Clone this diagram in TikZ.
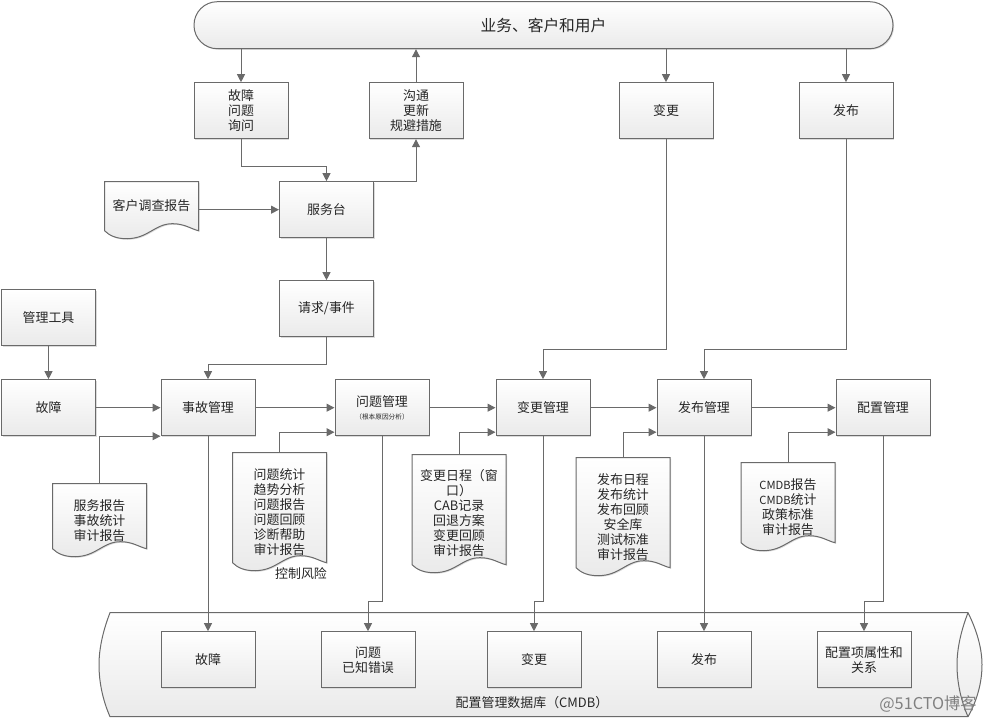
\documentclass[tikz,border=0pt]{standalone}
\usepackage{fontspec}
\setmainfont{Noto Sans CJK SC}
\usetikzlibrary{arrows.meta,shadows}
\definecolor{ln}{HTML}{6A6A6A}
\definecolor{sh}{HTML}{EAEAEA}
\tikzset{
  softshadow/.style={copy shadow={shadow xshift=.8pt,shadow yshift=-.8pt,fill=black!14,draw=none,opacity=1}},
  txt/.style={font=\fontsize{9.7}{11.25}\selectfont,text=black!85,align=center,inner sep=0pt},
  box/.style={txt,draw=ln,line width=.75pt,top color=white,bottom color=sh,minimum width=70.5pt,minimum height=42pt,softshadow},
  conn/.style={draw=ln,line width=.75pt,-{Triangle[length=6pt,width=6pt]}},
  docfill/.style={draw=ln,line width=.75pt,top color=white,bottom color=sh,softshadow},
  ghost/.style={txt,inner sep=0pt,minimum width=70.5pt}
}
% name, x-left, y-top, y-base, y-bottom, text
\newcommand\docshape[6]{%
  \path[docfill] (#2,#3) -- ++(94,0) -- (#2+94,#4)
    .. controls (#2+86,#4-2) and (#2+80,#4-7) .. (#2+68,#4-7)
    .. controls (#2+50,#4-7) and (#2+44,#4+8) .. (#2+22,#4+8)
    .. controls (#2+12,#4+8) and (#2+5,#4+5) .. (#2,#4) -- cycle;
  \node[ghost,minimum height=(#5-#3)*0.75pt] (#1) at (#2+47,{(#3+#5)/2}) {#6};
}
\begin{document}
\begin{tikzpicture}[x=0.75pt,y=-0.75pt]
\useasboundingbox (0,-0.7) rectangle (986,719.3);
% cylinder
\path[draw=ln,line width=.75pt,top color=white,bottom color=sh] (110,612) -- (968,612)
  .. controls (977,630) and (982,648) .. (982,664)
  .. controls (982,682) and (977,700) .. (968,716) -- (110,716)
  .. controls (103,700) and (99,682) .. (99,664)
  .. controls (99,648) and (103,630) .. (110,612) -- cycle;
\draw[ln,line width=.75pt] (968,612) .. controls (961,630) and (957,648) .. (957,664)
  .. controls (957,682) and (961,700) .. (968,716);
\node[txt] (cmdb) at (532,702) {配置管理数据库（CMDB）};
% top
\node[box,rounded corners=17.5pt,minimum width=524.25pt,minimum height=35.25pt,font=\fontsize{11.8}{14}\selectfont] (top) at (543.5,24.5) {业务、客户和用户};
\node[box] (b1) at (241,110) {故障\\问题\\询问};
\node[box] (b2) at (416,110) {沟通\\更新\\规避措施};
\node[box] (c1) at (666,110) {变更};
\node[box] (r1) at (846,110) {发布};
\node[box] (svc) at (326.5,209) {服务台};
\node[box] (req) at (326.5,308) {请求/事件};
\node[box] (tool) at (48.5,317) {管理工具};
\node[box] (flt) at (48.5,407) {故障};
\node[box] (inc) at (208,407) {事故管理};
\node[box] (prb) at (382,407) {问题管理\\[-2pt]{\fontsize{5}{6}\selectfont （根本原因分析）}};
\node[box] (chg) at (543,407) {变更管理};
\node[box] (rel) at (704,407) {发布管理};
\node[box] (cfg) at (883,407) {配置管理};
\node[box] (i1) at (208,659) {故障};
\node[box] (i2) at (368,659) {问题\\已知错误};
\node[box] (i3) at (534,659) {变更};
\node[box] (i4) at (704,659) {发布};
\node[box] (i5) at (864,659) {配置项属性和\\关系};
% documents
\docshape{d0}{104.5}{181}{230}{238}{\raisebox{8pt}{客户调查报告}}
\docshape{d1}{52.5}{483}{548}{556}{服务报告\\事故统计\\审计报告}
\docshape{d2}{232.5}{452}{562}{570}{问题统计\\趋势分析\\问题报告\\问题回顾\\诊断帮助\\审计报告}
\docshape{d3}{412}{454}{564}{570}{变更日程（窗\\口）\\CAB记录\\回退方案\\变更回顾\\审计报告}
\docshape{d4}{576}{457}{567}{575}{发布日程\\发布统计\\发布回顾\\安全库\\测试标准\\审计报告}
\docshape{d5}{741}{462}{542}{550}{{\fontsize{8.4}{11.25}\selectfont CMDB}报告\\{\fontsize{8.4}{11.25}\selectfont CMDB}统计\\政策标准\\审计报告}
\node[txt] (risk) at (301,573) {控制风险};
\node[font=\fontsize{12.2}{15}\selectfont,text=black!50,inner sep=0pt,anchor=east] (mark) at (977,703) {@51CTO博客};
% connectors
\draw[conn] (b1.north |- top.south) -- (b1.north);
\draw[conn] (b2.north) -- (b2.north |- top.south);
\draw[conn] (c1.north |- top.south) -- (c1.north);
\draw[conn] (r1.north |- top.south) -- (r1.north);
\draw[conn] (b1.south) -- ++(0,27) -| (svc.north);
\draw[conn] (svc.north east) -| (b2.south);
\draw[conn] (d0.east |- svc.west) -- (svc.west);
\draw[conn] (svc.south) -- (req.north);
\draw[conn] (req.south) -- ++(0,27) -| (inc.north);
\draw[conn] (tool.south) -- (flt.north);
\draw[conn] (flt.east) -- (inc.west);
\draw[conn] (inc.east) -- (prb.west);
\draw[conn] (prb.east) -- (chg.west);
\draw[conn] (chg.east) -- (rel.west);
\draw[conn] (rel.east) -- (cfg.west);
\draw[conn] (d1.north) |- (inc.south west);
\draw[conn] (d2.north) |- ([yshift=3pt]prb.south west);
\draw[conn] (d3.north) |- ([yshift=3pt]chg.south west);
\draw[conn] (d4.north) |- ([yshift=3pt]rel.south west);
\draw[conn] (d5.north) |- ([yshift=3pt]cfg.south west);
\draw[conn] (c1.south) -- ++(0,210) -| (chg.north);
\draw[conn] (r1.south) -- ++(0,210) -| (rel.north);
\draw[conn] (inc.south) -- (i1.north);
\draw[conn] (prb.south) -- ++(0,165) -| (i2.north);
\draw[conn] (chg.south) -- ++(0,165) -| (i3.north);
\draw[conn] (rel.south) -- (i4.north);
\draw[conn] (cfg.south) -- ++(0,165) -| (i5.north);
\end{tikzpicture}
\end{document}
